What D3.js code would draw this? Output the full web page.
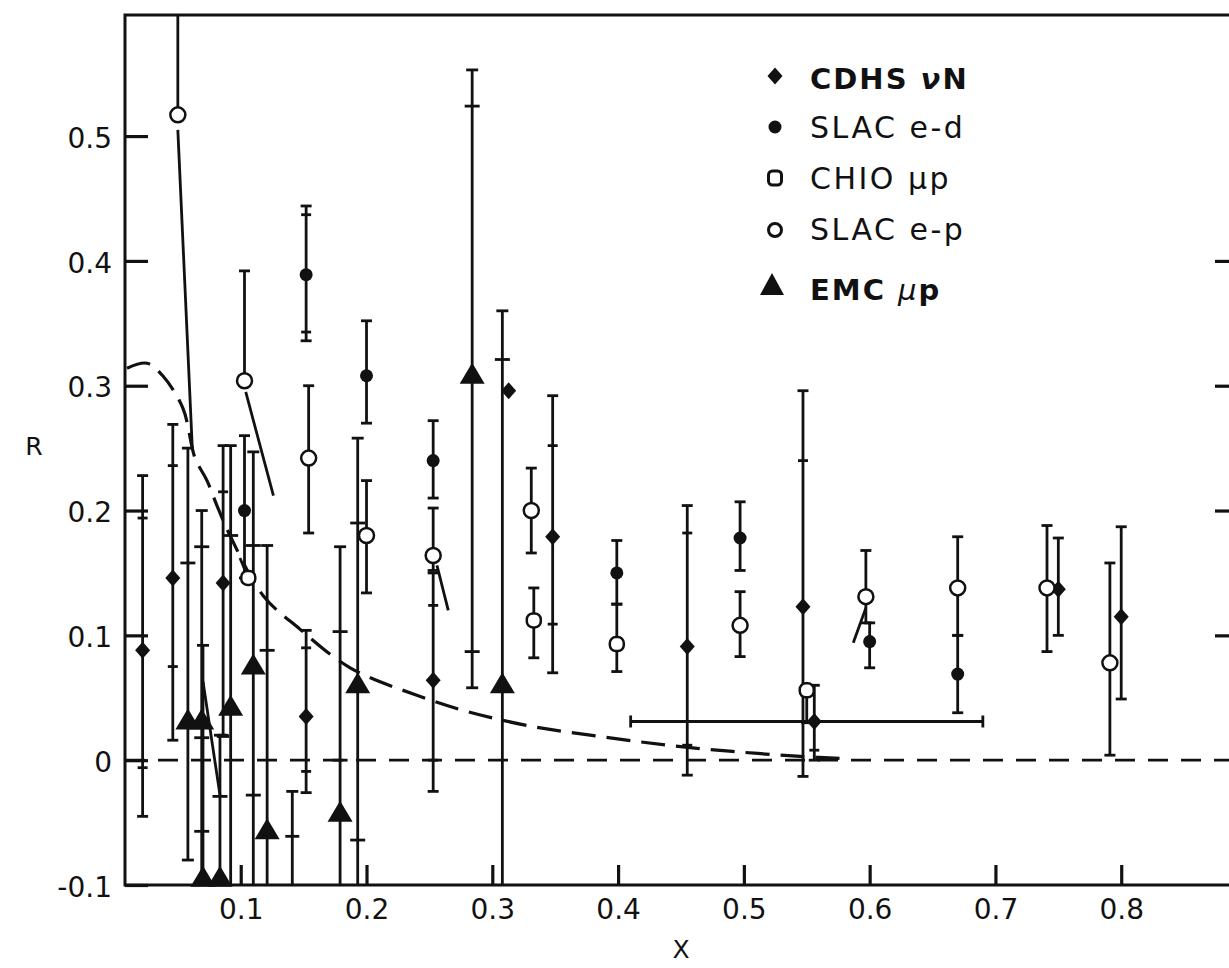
<!DOCTYPE html>
<html>
<head>
<meta charset="utf-8">
<script src="https://cdn.jsdelivr.net/npm/d3@7/dist/d3.min.js"></script>
<style>
body { margin: 0; background: #fff; overflow: hidden; }
svg { display: block; }
text { font-family: "DejaVu Sans", sans-serif; fill: #111; }
</style>
</head>
<body>
<div id="chart"></div>
<script>
//Width and height
var w = 1229;
var h = 968;

//Axis ticks
var xTicks = [0.1, 0.2, 0.3, 0.4, 0.5, 0.6, 0.7, 0.8];
var xTickLabels = ["0.1", "0.2", "0.3", "0.4", "0.5", "0.6", "0.7", "0.8"];
var yTicks = [-0.1, 0, 0.1, 0.2, 0.3, 0.4, 0.5];
var yTickLabels = ["-0.1", "0", "0.1", "0.2", "0.3", "0.4", "0.5"];
var yTicksRight = [0.1, 0.2, 0.3, 0.4];

//Series: x, R, error ends (lo/hi) and inner ticks (t)
var cdhsNu = [
    {x: 0.022, r: 0.088, lo: -0.045, hi: 0.228, t: [0.194, -0.006]},
    {x: 0.046, r: 0.146, lo: 0.016, hi: 0.269, t: [0.236, 0.075]},
    {x: 0.086, r: 0.142, lo: 0.02, hi: 0.252, t: [0.215]},
    {x: 0.152, r: 0.035, lo: -0.026, hi: 0.104, t: [0.09, -0.009]},
    {x: 0.253, r: 0.064, lo: -0.025, hi: 0.15, t: [0.124, 0.0]},
    {x: 0.313, r: 0.296},
    {x: 0.348, r: 0.179, lo: 0.07, hi: 0.292, t: [0.252, 0.109]},
    {x: 0.455, r: 0.091, lo: -0.012, hi: 0.204, t: [0.182, 0.012]},
    {x: 0.547, r: 0.123, lo: -0.013, hi: 0.296, t: [0.24]},
    {x: 0.556, r: 0.031, lo: 0.0, hi: 0.06, t: [0.008], xlo: 0.41, xhi: 0.69},
    {x: 0.75, r: 0.137, lo: 0.1, hi: 0.178},
    {x: 0.8, r: 0.115, lo: 0.049, hi: 0.187}
];

var slacED = [
    {x: 0.103, r: 0.2, lo: 0.146, hi: 0.26},
    {x: 0.152, r: 0.389, lo: 0.336, hi: 0.444, t: [0.437, 0.343]},
    {x: 0.2, r: 0.308, lo: 0.27, hi: 0.352},
    {x: 0.253, r: 0.24, lo: 0.21, hi: 0.272},
    {x: 0.399, r: 0.15, lo: 0.125, hi: 0.176},
    {x: 0.497, r: 0.178, lo: 0.152, hi: 0.207},
    {x: 0.6, r: 0.095, lo: 0.074, hi: 0.11},
    {x: 0.67, r: 0.069, lo: 0.038, hi: 0.1}
];

var chioMuP = [
    {x: 0.106, r: 0.146},
    {x: 0.333, r: 0.112, lo: 0.082, hi: 0.138},
    {x: 0.399, r: 0.093, lo: 0.071, hi: 0.125},
    {x: 0.55, r: 0.056, lo: 0.03, hi: 0.06}
];

var slacEP = [
    {x: 0.05, r: 0.517, hi: 0.597},
    {x: 0.103, r: 0.304, hi: 0.392},
    {x: 0.154, r: 0.242, lo: 0.182, hi: 0.3},
    {x: 0.2, r: 0.18, lo: 0.134, hi: 0.224},
    {x: 0.253, r: 0.164, lo: 0.152, hi: 0.202},
    {x: 0.331, r: 0.2, lo: 0.166, hi: 0.234},
    {x: 0.497, r: 0.108, lo: 0.083, hi: 0.135},
    {x: 0.597, r: 0.131, lo: 0.11, hi: 0.168},
    {x: 0.67, r: 0.138, lo: 0.1, hi: 0.179},
    {x: 0.741, r: 0.138, lo: 0.087, hi: 0.188},
    {x: 0.791, r: 0.078, lo: 0.004, hi: 0.158}
];

var emcMuP = [
    {x: 0.058, r: 0.031, lo: -0.08, hi: 0.25, t: [0.158]},
    {x: 0.069, r: 0.031, lo: -0.1, hi: 0.2, t: [0.171, 0.018, -0.057]},
    {x: 0.070, r: -0.095, lo: -0.1, hi: 0.092},
    {x: 0.0835, r: -0.095, lo: -0.1, hi: 0.02, t: [-0.029]},
    {x: 0.092, r: 0.042, lo: -0.1, hi: 0.252, t: [0.18]},
    {x: 0.11, r: 0.075, lo: -0.1, hi: 0.247, t: [0.172, -0.028]},
    {x: 0.121, r: -0.057, lo: -0.1, hi: 0.172, t: [0.088]},
    {x: 0.179, r: -0.043, lo: -0.1, hi: 0.171, t: [0.103, 0.0]},
    {x: 0.193, r: 0.06, lo: -0.1, hi: 0.258, t: [0.19, -0.064]},
    {x: 0.284, r: 0.308, lo: 0.058, hi: 0.553, t: [0.524, 0.087]},
    {x: 0.308, r: 0.06, lo: -0.1, hi: 0.36, t: [0.321]}
];

//error bar with no visible marker
var strayBars = [
    {x: 0.141, lo: -0.1, hi: -0.025, t: [-0.061]}
];

//short solid segments drawn from some points
var slantSegs = [
    [[0.05, 0.505], [0.0615, 0.25]],
    [[0.104, 0.295], [0.126, 0.212]],
    [[0.0994, 0.162], [0.106, 0.146]],
    [[0.256, 0.156], [0.265, 0.12]],
    [[0.597, 0.122], [0.587, 0.094]],
    [[0.07, 0.063], [0.0835, -0.028]],
    [[0.081, 0.019], [0.091, 0.019]]
];

//dashed theory curve
var curveX = [0.0096, 0.0255, 0.038, 0.054, 0.0637, 0.0732, 0.0811, 0.0915, 0.1177, 0.147, 0.187, 0.24, 0.28, 0.332, 0.386, 0.439, 0.491, 0.545, 0.584];
var curveR = [0.314, 0.318, 0.308, 0.282, 0.242, 0.224, 0.204, 0.18, 0.132, 0.105, 0.074, 0.052, 0.039, 0.027, 0.019, 0.012, 0.007, 0.003, 0.001];

var x = d3.scaleLinear().domain([0.008, 0.9]).range([125, 1247]);
var y = d3.scaleLinear().domain([-0.1, 0.597]).range([885, 15]);

var svg = d3.select("#chart")
            .append("svg")
            .attr("width", w)
            .attr("height", h);

//Frame
svg.append("rect")
    .attr("x", x(0.008))
    .attr("y", y(0.597))
    .attr("width", x(0.9) - x(0.008))
    .attr("height", y(-0.1) - y(0.597))
    .style("fill", "none")
    .style("stroke", "#111")
    .style("stroke-width", 3);

//Axes
var yAxis = d3.axisLeft(y)
    .tickValues(yTicks)
    .tickSize(-23)
    .tickPadding(13)
    .tickFormat(function(d, i) { return yTickLabels[i]; });
var gy = svg.append("g")
    .attr("transform", "translate(" + x(0.008) + ",0)")
    .call(yAxis);

var xAxis = d3.axisBottom(x)
    .tickValues(xTicks)
    .tickSize(-20)
    .tickPadding(14)
    .tickFormat(function(d, i) { return xTickLabels[i]; });
var gx = svg.append("g")
    .attr("transform", "translate(0," + y(-0.1) + ")")
    .call(xAxis);

var gr = svg.append("g")
    .attr("transform", "translate(" + x(0.9) + ",0)")
    .call(d3.axisRight(y).tickValues(yTicksRight).tickSize(-32).tickFormat(""));

[gy, gx, gr].forEach(function(g) {
    g.select(".domain").remove();
    g.selectAll("line").style("stroke", "#111").style("stroke-width", 3.2);
    g.selectAll("text")
        .attr("font-size", 28)
        .attr("font-family", "DejaVu Sans, sans-serif")
        .style("fill", "#111");
});
gy.selectAll("text").attr("dy", "0.4em");

//Zero line
svg.append("line")
    .attr("x1", x(0.008))
    .attr("x2", x(0.9))
    .attr("y1", y(0))
    .attr("y2", y(0))
    .style("stroke", "#111")
    .style("stroke-width", 2.8)
    .style("stroke-dasharray", "20,13");

//Dashed curve
var curvePts = curveX.map(function(d, i) { return [d, curveR[i]]; });
var line = d3.line()
    .x(function(d) { return x(d[0]); })
    .y(function(d) { return y(d[1]); })
    .curve(d3.curveCatmullRom);
svg.append("path")
    .attr("d", line(curvePts))
    .style("fill", "none")
    .style("stroke", "#111")
    .style("stroke-width", 3.2)
    .style("stroke-dasharray", "24,11");

//Slanted segments
svg.selectAll("line.slant")
    .data(slantSegs)
    .enter()
    .append("line")
    .attr("class", "slant")
    .attr("x1", function(d) { return x(d[0][0]); })
    .attr("y1", function(d) { return y(d[0][1]); })
    .attr("x2", function(d) { return x(d[1][0]); })
    .attr("y2", function(d) { return y(d[1][1]); })
    .style("stroke", "#111")
    .style("stroke-width", 2.8);

//Error bars
var drawBars = function(data, name, capW, tickW) {
    var g = svg.append("g").attr("class", name);
    var withBars = data.filter(function(d) { return d.hi != null; });
    g.selectAll("line.bar")
        .data(withBars)
        .enter()
        .append("line")
        .attr("class", "bar")
        .attr("x1", function(d) { return x(d.x); })
        .attr("x2", function(d) { return x(d.x); })
        .attr("y1", function(d) { return y(d.hi); })
        .attr("y2", function(d) { return y(d.lo != null ? d.lo : d.r); });

    var caps = [];
    var ticks = [];
    withBars.forEach(function(d) {
        if (d.hi < 0.59) caps.push({x: d.x, v: d.hi});
        if (d.lo != null && d.lo > -0.099) caps.push({x: d.x, v: d.lo});
        (d.t || []).forEach(function(t) { ticks.push({x: d.x, v: t}); });
    });
    g.selectAll("line.cap")
        .data(caps)
        .enter()
        .append("line")
        .attr("class", "cap")
        .attr("x1", function(d) { return x(d.x) - capW / 2; })
        .attr("x2", function(d) { return x(d.x) + capW / 2; })
        .attr("y1", function(d) { return y(d.v); })
        .attr("y2", function(d) { return y(d.v); });
    g.selectAll("line.tick")
        .data(ticks)
        .enter()
        .append("line")
        .attr("class", "tick")
        .attr("x1", function(d) { return x(d.x) - tickW / 2; })
        .attr("x2", function(d) { return x(d.x) + tickW / 2; })
        .attr("y1", function(d) { return y(d.v); })
        .attr("y2", function(d) { return y(d.v); });

    //horizontal bars
    var hb = data.filter(function(d) { return d.xlo != null; });
    g.selectAll("line.hbar")
        .data(hb)
        .enter()
        .append("line")
        .attr("x1", function(d) { return x(d.xlo); })
        .attr("x2", function(d) { return x(d.xhi); })
        .attr("y1", function(d) { return y(d.r); })
        .attr("y2", function(d) { return y(d.r); });
    hb.forEach(function(d) {
        [d.xlo, d.xhi].forEach(function(e) {
            g.append("line")
                .attr("x1", x(e)).attr("x2", x(e))
                .attr("y1", y(d.r) - 6).attr("y2", y(d.r) + 6);
        });
    });
    g.selectAll("line").style("stroke", "#111").style("stroke-width", 2.8);
};

drawBars(emcMuP, "emc", 12, 15);
drawBars(strayBars, "stray", 12, 14);
drawBars(cdhsNu, "cdhs", 11, 10);
drawBars(slacED, "slaced", 11, 10);
drawBars(chioMuP, "chio", 11, 10);
drawBars(slacEP, "slacep", 11, 10);

//Markers
var diamond = "M0,-8.5L7.5,0L0,8.5L-7.5,0Z";
var triangle = "M0,-13L12.5,8L-12.5,8Z";

svg.selectAll("path.emc")
    .data(emcMuP)
    .enter()
    .append("path")
    .attr("class", "emc")
    .attr("d", triangle)
    .attr("transform", function(d) { return "translate(" + x(d.x) + "," + y(d.r) + ")"; })
    .style("fill", "#111");

svg.selectAll("path.cdhs")
    .data(cdhsNu)
    .enter()
    .append("path")
    .attr("class", "cdhs")
    .attr("d", diamond)
    .attr("transform", function(d) { return "translate(" + x(d.x) + "," + y(d.r) + ")"; })
    .style("fill", "#111");

svg.selectAll("circle.slaced")
    .data(slacED)
    .enter()
    .append("circle")
    .attr("class", "slaced")
    .attr("cx", function(d) { return x(d.x); })
    .attr("cy", function(d) { return y(d.r); })
    .attr("r", 6.5)
    .style("fill", "#111");

svg.selectAll("rect.chio")
    .data(chioMuP)
    .enter()
    .append("rect")
    .attr("class", "chio")
    .attr("x", function(d) { return x(d.x) - 7; })
    .attr("y", function(d) { return y(d.r) - 7; })
    .attr("width", 14)
    .attr("height", 14)
    .attr("rx", 6)
    .style("fill", "#fff")
    .style("stroke", "#111")
    .style("stroke-width", 2.5);

svg.selectAll("circle.slacep")
    .data(slacEP)
    .enter()
    .append("circle")
    .attr("class", "slacep")
    .attr("cx", function(d) { return x(d.x); })
    .attr("cy", function(d) { return y(d.r); })
    .attr("r", 7.5)
    .style("fill", "#fff")
    .style("stroke", "#111")
    .style("stroke-width", 2.5);

//Axis titles
svg.append("text")
    .attr("x", 34)
    .attr("y", 455)
    .attr("text-anchor", "middle")
    .attr("font-size", 25)
    .text("R");
svg.append("text")
    .attr("x", x(0.45))
    .attr("y", 958)
    .attr("text-anchor", "middle")
    .attr("font-size", 25)
    .text("X");

//Legend
var legendRows = [
    [{t: "CDHS ", b: true}, {t: "ν", i: true, b: true}, {t: "N", b: true}],
    [{t: "SLAC e-d"}],
    [{t: "CHIO μp"}],
    [{t: "SLAC e-p"}],
    [{t: "EMC ", b: true}, {t: "μ", i: true}, {t: "p", b: true}]
];
var legendMarkY = [76, 127, 178, 230, 285];
var legendTextY = [89, 138, 189, 240, 300];
var lx = 775;

var leg = svg.append("g").attr("class", "legend");
leg.append("path").attr("d", diamond).attr("transform", "translate(" + lx + "," + legendMarkY[0] + ")").style("fill", "#111");
leg.append("circle").attr("cx", lx).attr("cy", legendMarkY[1]).attr("r", 6.5).style("fill", "#111");
leg.append("rect").attr("x", lx - 6.5).attr("y", legendMarkY[2] - 7).attr("width", 13).attr("height", 14).attr("rx", 4)
    .style("fill", "#fff").style("stroke", "#111").style("stroke-width", 3);
leg.append("circle").attr("cx", lx).attr("cy", legendMarkY[3]).attr("r", 6.5)
    .style("fill", "#fff").style("stroke", "#111").style("stroke-width", 3);
leg.append("path").attr("d", "M0,-12L12,10L-12,10Z").attr("transform", "translate(" + (lx - 3) + "," + legendMarkY[4] + ")").style("fill", "#111");

legendRows.forEach(function(row, i) {
    var t = leg.append("text")
        .attr("x", 810)
        .attr("y", legendTextY[i])
        .attr("font-size", row[0].b ? 29 : 30)
        .style("letter-spacing", row[0].b ? "2px" : "2.5px");
    row.forEach(function(p) {
        t.append("tspan")
            .style("font-weight", p.b ? "bold" : "normal")
            .style("font-style", p.i ? "italic" : "normal")
            .text(p.t);
    });
});
</script>
</body>
</html>
